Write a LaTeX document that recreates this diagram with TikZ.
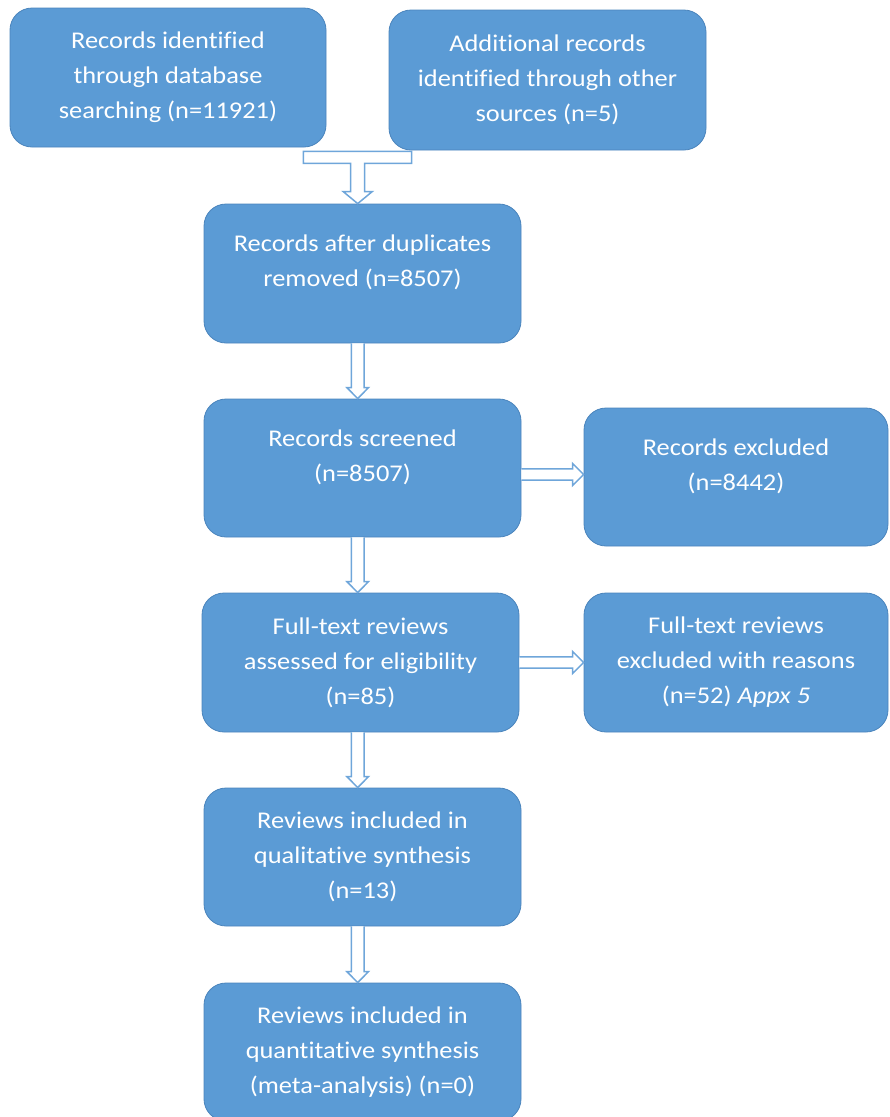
\documentclass[tikz,border=0pt]{standalone}
\usepackage{fontspec}
\setmainfont{Carlito}[FakeStretch=1.1, Ligatures=NoCommon]
\usetikzlibrary{calc}
\definecolor{boxfill}{HTML}{5B9BD5}
\definecolor{boxdraw}{HTML}{4A84BC}
\definecolor{arrowline}{HTML}{6FA6DA}
\tikzset{
  box/.style={draw=boxdraw, line width=0.8pt, fill=boxfill, rounded corners=22pt,
    text=white, align=center, font=\fontsize{24}{35}\selectfont, inner sep=0pt},
  blockarrow/.style={draw=arrowline, line width=1.5pt, fill=white, line join=miter}
}
\newcommand\vblockarrow[2]{%
  \draw[blockarrow] let \p1=($(#1.south -| C.north)+(-4.8,0)$), \p2=(#2.north) in
    (\x1-6.3pt,\y1) -- (\x1-6.3pt,\y2+11pt) -- (\x1-10.8pt,\y2+11pt) -- (\x1,\y2)
    -- (\x1+10.8pt,\y2+11pt) -- (\x1+6.3pt,\y2+11pt) -- (\x1+6.3pt,\y1);}
\newcommand\hblockarrow[3]{%
  \draw[blockarrow] let \p1=($(#1.east)+(0,#3)$), \p2=(#2.west) in
    (\x1,\y1+5.7pt) -- (\x2-11pt,\y1+5.7pt) -- (\x2-11pt,\y1+11pt) -- (\x2,\y1)
    -- (\x2-11pt,\y1-11pt) -- (\x2-11pt,\y1-5.7pt) -- (\x1,\y1-5.7pt);}
\begin{document}
\begin{tikzpicture}[x=1pt,y=-1pt]
\useasboundingbox (0,0) rectangle (890,1117);
\node[box, minimum width=316pt, minimum height=139pt] (A) at (168,77.5)
  {Records identified\\through database\\searching (n=11921)};
\node[box, minimum width=317pt, minimum height=140pt] (B) at (547.5,80)
  {Additional records\\identified through other\\sources (n=5)};
\node[box, minimum width=317pt, minimum height=139pt] (C) at (362.5,273.5)
  {Records after duplicates\\removed (n=8507)\\[-20pt]\strut};
\node[box, minimum width=317pt, minimum height=138pt] (D) at (362.5,468)
  {Records screened\\(n=8507)\\[-20pt]\strut};
\node[box, minimum width=304pt, minimum height=138pt] (E) at (736,477)
  {Records excluded\\(n=8442)\\[-20pt]\strut};
\node[box, minimum width=317pt, minimum height=139pt] (F) at (360.5,662.5)
  {Full-text reviews\\assessed for eligibility\\(n=85)};
\node[box, minimum width=304pt, minimum height=139pt] (G) at (736,662.5)
  {Full-text reviews\\excluded with reasons\\(n=52) \textit{Appx 5}};
\node[box, minimum width=317pt, minimum height=138pt] (H) at (362.5,857)
  {Reviews included in\\qualitative synthesis\\(n=13)};
\node[box, minimum width=317pt, minimum height=138pt] (I) at (362.5,1052)
  {Reviews included in\\quantitative synthesis\\(meta-analysis) (n=0)};
% T-shaped merge arrow
\draw[blockarrow] let \p1=($(C.north)+(-4.8,0)$), \p2=(A.south), \p3=(A.south east), \p4=(B.south west) in
  (\x1-7pt,\y2-16pt) -- (\x3-23pt,\y2-16pt) -- (\x3-23pt,\y2-4pt) -- (\x4+23pt,\y2-4pt)
  -- (\x4+23pt,\y2-16pt) -- (\x1+7pt,\y2-16pt) -- (\x1+7pt,\y1+12pt) -- (\x1+14.5pt,\y1+12pt)
  -- (\x1,\y1) -- (\x1-14.5pt,\y1+12pt) -- (\x1-7pt,\y1+12pt) -- cycle;
\vblockarrow{C}{D}
\vblockarrow{D}{F}
\vblockarrow{F}{H}
\vblockarrow{H}{I}
\hblockarrow{D}{E}{6.5}
\hblockarrow{F}{G}{0}
\end{tikzpicture}
\end{document}
